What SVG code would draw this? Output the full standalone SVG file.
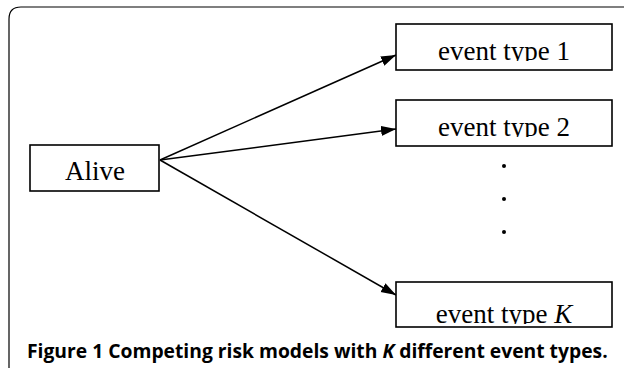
<svg xmlns="http://www.w3.org/2000/svg" width="624" height="371" viewBox="0 0 624 371">
<style>
.box{fill:#fff;stroke:#000;stroke-width:1.6}
.lbl{font-family:"Liberation Serif","Times New Roman",serif;font-size:27px;fill:#000;text-anchor:middle}
.edge{stroke:#000;stroke-width:1.5;fill:none}
.cap{font-family:"Open Sans","Liberation Sans",sans-serif;font-weight:bold;font-size:19.3px;fill:#000}
</style>
<defs>
<marker id="ah" markerUnits="userSpaceOnUse" markerWidth="16" markerHeight="12" refX="15" refY="5" orient="auto">
<path d="M0,0 L15,5 L0,10 Z" fill="#000"/>
</marker>
<clipPath id="c1"><rect x="396" y="24" width="216" height="37"/></clipPath>
<clipPath id="c2"><rect x="396" y="100" width="216" height="37"/></clipPath>
<clipPath id="c3"><rect x="396" y="282" width="216" height="42"/></clipPath>
</defs>
<path d="M9,368 L9,19 Q9,7 21,7 L624,7" fill="none" stroke="#000" stroke-width="1.2"/>
<g id="connectors">
<line class="edge" x1="160" y1="160" x2="396" y2="55" marker-end="url(#ah)"/>
<line class="edge" x1="160" y1="160" x2="396" y2="129" marker-end="url(#ah)"/>
<line class="edge" x1="160" y1="160" x2="396" y2="295" marker-end="url(#ah)"/>
</g>
<g id="alive">
<rect class="box" x="30" y="145" width="129" height="46"/>
<text class="lbl" x="95" y="180">Alive</text>
</g>
<g id="event1">
<rect class="box" x="396" y="24" width="216" height="46"/>
<text class="lbl" x="504" y="60" clip-path="url(#c1)">event type 1</text>
</g>
<g id="event2">
<rect class="box" x="396" y="100" width="216" height="46"/>
<text class="lbl" x="504" y="136" clip-path="url(#c2)">event type 2</text>
</g>
<g id="dots">
<circle cx="504" cy="166" r="2"/>
<circle cx="504" cy="199" r="2"/>
<circle cx="504" cy="232" r="2"/>
</g>
<g id="eventK">
<rect class="box" x="396" y="282" width="216" height="45"/>
<text class="lbl" x="504" y="323" clip-path="url(#c3)">event type <tspan font-style="italic">K</tspan></text>
</g>
<text class="cap" x="27" y="358">Figure 1 Competing risk models with <tspan font-style="italic">K</tspan> different event types.</text>
</svg>
